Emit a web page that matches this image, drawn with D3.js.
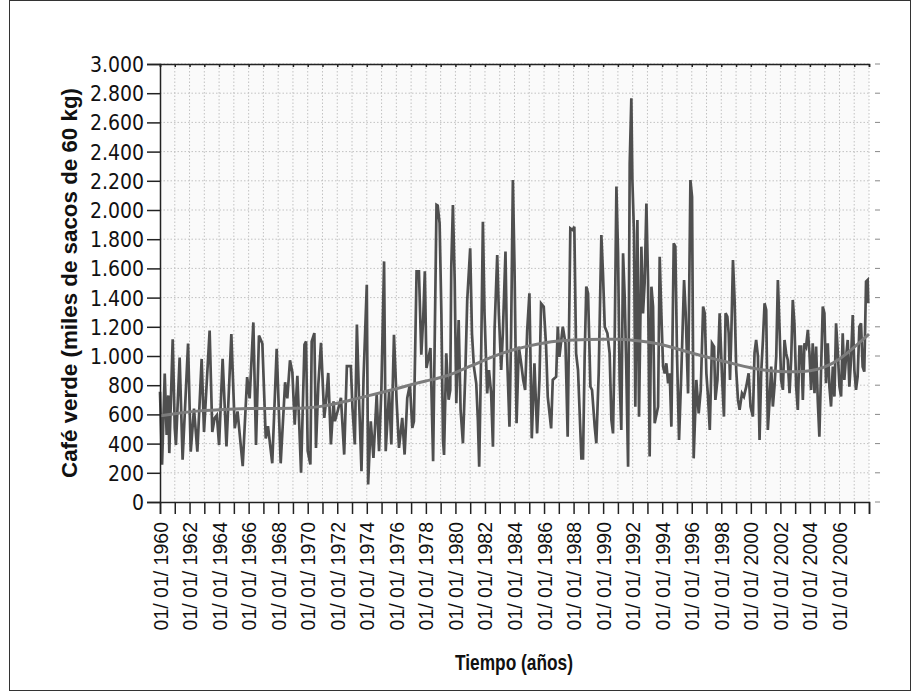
<!DOCTYPE html>
<html lang="es">
<head>
  <meta charset="UTF-8">
  <title>Café verde</title>
  <script src="https://d3js.org/d3.v7.min.js"></script>
  <style>
    body { margin: 0; background: #ffffff; }
    .grid line { stroke: #c2c2c2; stroke-width: 1; stroke-dasharray: 1.5 2; }
    .axis path, .axis line { stroke: #222; stroke-width: 1.5; }
    .ylab text { font: 21px "DejaVu Sans Condensed", "Liberation Sans", sans-serif; fill: #111; }
    .xlab text { font: 19.5px "Liberation Sans", Arial, sans-serif; fill: #111; }
    .title { font: bold 22px "Liberation Sans", Arial, sans-serif; fill: #111; }
  </style>
</head>
<body>
  <svg id="chart" width="919" height="698"></svg>
  <script>
    // serie mensual (picos y valles), miles de sacos
    const serieAnios = [
      1960.00,1960.14,1960.32,1960.45,1960.56,1960.63,1960.86,1961.00,1961.08,1961.33,1961.53,1961.90,
      1962.08,1962.30,1962.53,1962.82,1962.98,1963.36,1963.54,1963.70,1963.85,1964.00,1964.24,1964.50,
      1964.83,1965.06,1965.25,1965.60,1965.90,1966.07,1966.32,1966.50,1966.70,1966.93,1967.16,1967.31,
      1967.60,1967.90,1968.17,1968.47,1968.62,1968.80,1968.96,1969.12,1969.30,1969.55,1969.78,1969.89,
      1970.00,1970.18,1970.27,1970.45,1970.56,1970.72,1970.90,1971.12,1971.24,1971.39,1971.57,1971.75,
      1971.84,1972.02,1972.25,1972.47,1972.65,1972.92,1973.03,1973.19,1973.33,1973.48,1973.64,1973.78,
      1974.00,1974.09,1974.27,1974.45,1974.67,1974.83,1974.99,1975.17,1975.28,1975.51,1975.66,1975.84,
      1976.02,1976.18,1976.40,1976.56,1976.74,1976.92,1977.08,1977.19,1977.37,1977.53,1977.69,1977.82,
      1977.93,1978.04,1978.31,1978.49,1978.72,1978.80,1978.93,1979.05,1979.16,1979.23,1979.38,1979.54,
      1979.65,1979.72,1979.83,1979.95,1980.06,1980.22,1980.35,1980.51,1980.67,1980.80,1981.00,1981.12,
      1981.25,1981.41,1981.52,1981.61,1981.75,1981.86,1981.97,1982.15,1982.27,1982.42,1982.54,1982.65,
      1982.83,1982.94,1983.10,1983.21,1983.39,1983.50,1983.66,1983.77,1983.89,1984.00,1984.14,1984.29,
      1984.45,1984.59,1984.72,1984.86,1985.01,1985.17,1985.35,1985.53,1985.69,1985.80,1985.98,1986.14,
      1986.25,1986.48,1986.59,1986.82,1986.93,1987.04,1987.27,1987.45,1987.60,1987.78,1987.94,1988.05,
      1988.17,1988.30,1988.53,1988.64,1988.75,1988.86,1988.98,1989.14,1989.25,1989.43,1989.54,1989.70,
      1989.88,1989.99,1990.11,1990.29,1990.44,1990.56,1990.67,1990.78,1990.90,1991.01,1991.12,1991.23,
      1991.35,1991.46,1991.57,1991.69,1991.80,1991.91,1991.98,1992.09,1992.18,1992.32,1992.43,1992.59,
      1992.70,1992.81,1992.93,1993.04,1993.15,1993.27,1993.38,1993.49,1993.72,1993.83,1993.94,1994.06,
      1994.17,1994.28,1994.40,1994.51,1994.62,1994.78,1994.89,1995.00,1995.14,1995.30,1995.48,1995.59,
      1995.75,1995.91,1996.02,1996.13,1996.31,1996.47,1996.61,1996.77,1996.88,1996.99,1997.10,1997.22,
      1997.37,1997.51,1997.60,1997.74,1997.89,1998.05,1998.18,1998.29,1998.41,1998.50,1998.59,1998.68,
      1998.79,1998.90,1999.01,1999.13,1999.24,1999.40,1999.53,1999.69,1999.85,1999.98,2000.14,2000.25,
      2000.36,2000.48,2000.59,2000.70,2000.82,2000.93,2001.04,2001.15,2001.27,2001.38,2001.49,2001.60,
      2001.72,2001.83,2001.94,2002.05,2002.17,2002.28,2002.39,2002.50,2002.62,2002.73,2002.84,2002.95,
      2003.07,2003.18,2003.29,2003.41,2003.52,2003.63,2003.74,2003.86,2003.97,2004.08,2004.19,2004.31,
      2004.42,2004.53,2004.64,2004.76,2004.87,2004.98,2005.09,2005.21,2005.32,2005.43,2005.55,2005.66,
      2005.77,2005.88,2006.00,2006.11,2006.22,2006.33,2006.45,2006.56,2006.67,2006.78,2006.90,2007.01,
      2007.12,2007.23,2007.35,2007.46,2007.57,2007.68,2007.80,2007.91,2007.95
    ];
    const serieValores = [
      755,255,880,460,730,335,1115,505,390,990,290,1085,
      345,640,345,980,480,1175,480,575,595,390,980,380,
      1150,505,620,245,855,710,1230,390,1140,1085,435,520,
      265,1050,265,820,710,970,890,530,865,200,1078,1100,
      350,257,1100,1157,370,805,1090,576,690,884,394,690,
      553,620,713,325,930,930,645,394,1215,690,211,850,
      1488,120,553,302,736,348,780,1648,348,759,394,1146,
      690,371,576,325,713,805,508,553,1580,1580,1009,1260,
      1580,918,1055,280,2035,2030,1908,1292,425,322,1018,700,
      767,1612,2034,1520,676,1247,630,402,881,1383,1737,1155,
      927,813,562,242,1064,1920,1292,744,904,744,379,1178,
      1692,1292,904,1155,1715,995,516,1155,2205,1612,539,1064,
      950,836,767,1178,1429,436,950,470,836,1360,1338,1064,
      722,504,836,858,1201,995,1201,1087,447,1874,1863,1886,
      1018,904,299,299,995,1475,1429,790,767,516,402,881,
      1829,1566,1201,1155,1018,562,470,1087,2160,1703,836,493,
      1703,1406,904,242,2320,2765,2205,1840,653,1931,584,1749,
      1292,1498,2045,1520,311,1475,1338,539,653,1680,1292,927,
      881,950,813,881,516,1772,1749,1018,425,904,1520,1292,
      744,2205,2091,299,836,607,767,1338,1292,881,722,493,
      1087,1064,699,836,1292,859,585,1293,1270,1156,836,1156,
      1658,1384,905,699,631,745,722,790,882,654,585,1021,
      1110,998,425,882,1110,1361,1316,494,699,927,654,790,
      998,1521,1201,836,768,1110,1019,973,745,973,1384,1224,
      790,631,1064,1064,699,1087,1064,1179,1019,768,1087,745,
      1064,699,448,927,1338,1293,813,1087,790,654,927,722,
      1224,1042,790,722,1156,836,998,1110,790,973,1281,905,
      768,859,1201,1224,927,893,1510,1521,1361
    ];
    // tendencia suavizada
    const tendAnios = d3.range(1960, 2009);
    const tendValores = [
      590,605,618,627,633,637,640,641,641,641,645,655,675,700,725,750,775,805,830,850,
      885,930,975,1015,1045,1070,1090,1103,1110,1114,1116,1115,1110,1097,1078,1050,1020,993,968,942,
      918,902,893,890,895,920,975,1060,1150
    ];
    const yTicks = d3.range(0, 3001, 200);
    const xTickAnios = d3.range(1960, 2009);
    const xEtiquetaAnios = d3.range(1960, 2007, 2);

    const svg = d3.select("#chart");
    const m = { left: 160, right: 869, top: 64, bottom: 502 };

    const x = d3.scaleLinear().domain([1960, 2008]).range([m.left, m.right]);
    const y = d3.scaleLinear().domain([0, 3000]).range([m.bottom, m.top]);

    const loc = d3.formatLocale({ decimal: ",", thousands: ".", grouping: [3], currency: ["", ""] });
    const fmt = loc.format(",d");

    // marco exterior
    svg.append("rect")
       .attr("x", 9.5).attr("y", 0.5).attr("width", 901).attr("height", 690)
       .attr("fill", "none").attr("stroke", "#333").attr("stroke-width", 1);

    svg.append("rect")
       .attr("x", m.left).attr("y", m.top)
       .attr("width", m.right - m.left).attr("height", m.bottom - m.top)
       .attr("fill", "#fafafa");

    // rejilla
    const grid = svg.append("g").attr("class", "grid");
    grid.selectAll("line.v").data(xTickAnios.slice(1)).enter().append("line")
        .attr("x1", d => x(d)).attr("x2", d => x(d))
        .attr("y1", m.top).attr("y2", m.bottom);
    grid.selectAll("line.h").data(yTicks.slice(1)).enter().append("line")
        .attr("x1", m.left).attr("x2", m.right)
        .attr("y1", d => y(d)).attr("y2", d => y(d));

    // borde superior con marcas pequeñas
    svg.append("g").attr("class", "axis")
       .attr("transform", `translate(0,${m.top})`)
       .call(d3.axisTop(x).tickValues(xTickAnios).tickSize(-3).tickFormat(""));

    // lado derecho
    svg.append("g")
       .selectAll("line").data(yTicks).enter().append("line")
       .attr("x1", m.right + 6).attr("x2", m.right + 11)
       .attr("y1", d => y(d)).attr("y2", d => y(d))
       .attr("stroke", "#888").attr("stroke-width", 1);

    // series
    const linea = d3.line().x((d, i) => x(serieAnios[i])).y(d => y(d));
    svg.append("path")
       .datum(serieValores)
       .attr("d", linea)
       .attr("fill", "none")
       .attr("stroke", "#4f4f4f")
       .attr("stroke-width", 2.7);

    const lineaTend = d3.line().x((d, i) => x(tendAnios[i])).y(d => y(d)).curve(d3.curveBasis);
    svg.append("path")
       .datum(tendValores)
       .attr("d", lineaTend)
       .attr("fill", "none")
       .attr("stroke", "#7c7c7c")
       .attr("stroke-width", 3);

    // ejes
    const yAxis = svg.append("g").attr("class", "axis ylab")
       .attr("transform", `translate(${m.left},0)`)
       .call(d3.axisLeft(y).tickValues(yTicks).tickSize(13).tickPadding(3).tickFormat(fmt));
    yAxis.selectAll("text").attr("dy", "0.36em");

    const xAxis = svg.append("g").attr("class", "axis xlab")
       .attr("transform", `translate(0,${m.bottom})`)
       .call(d3.axisBottom(x).tickValues(xTickAnios).tickSize(12)
             .tickFormat(d => xEtiquetaAnios.includes(d) ? "01/ 01/ " + d : ""));
    xAxis.selectAll("text")
       .attr("transform", "rotate(-90)")
       .attr("text-anchor", "end")
       .attr("x", -20).attr("y", 0).attr("dy", "0.36em");

    svg.append("text").attr("class", "title")
       .attr("transform", `translate(77,283) rotate(-90)`)
       .attr("text-anchor", "middle")
       .attr("textLength", 390).attr("lengthAdjust", "spacingAndGlyphs")
       .text("Café verde (miles de sacos de 60 kg)");

    svg.append("text").attr("class", "title")
       .attr("x", 514).attr("y", 670)
       .attr("text-anchor", "middle")
       .attr("textLength", 118).attr("lengthAdjust", "spacingAndGlyphs")
       .text("Tiempo (años)");
  </script>
</body>
</html>
